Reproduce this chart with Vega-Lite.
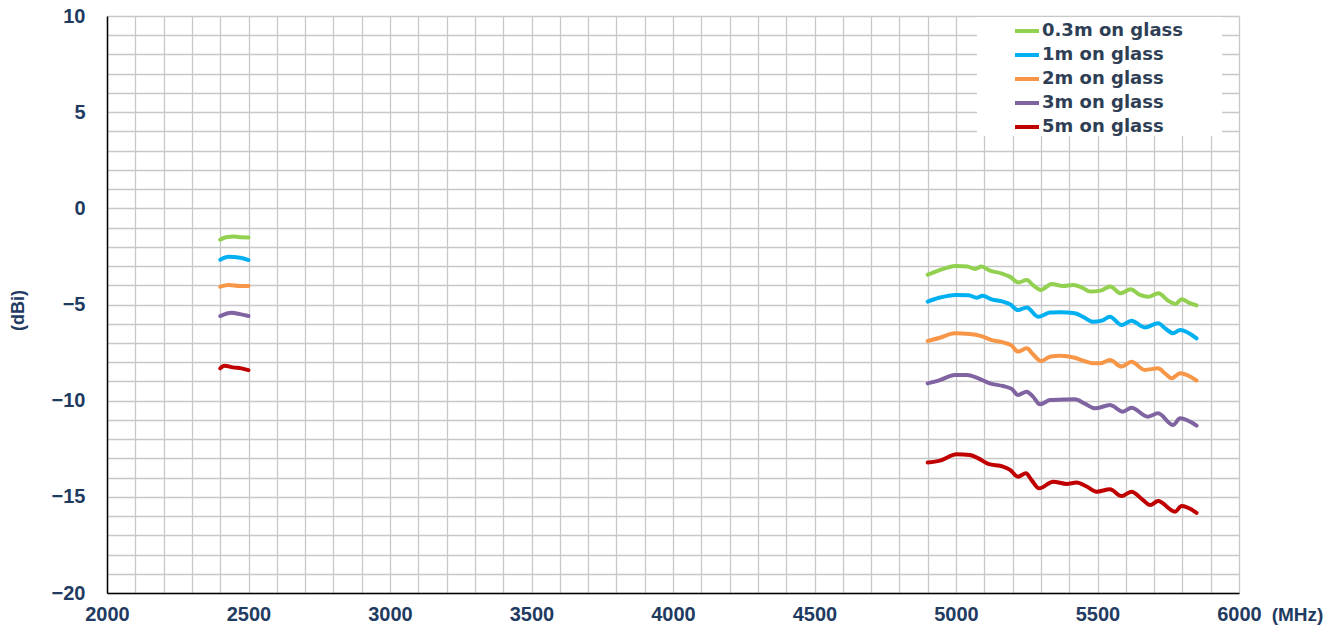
{
  "$schema": "https://vega.github.io/schema/vega-lite/v6.json",
  "width": 1132,
  "height": 577,
  "autosize": {"type": "none"},
  "padding": {"left": 107, "top": 16, "right": 104, "bottom": 37},
  "background": "white",
  "config": {"view": {"stroke": null}, "font": "Liberation Sans"},
  "data": {"values": [
    {"s":"0.3m on glass","b":"2.4","f":2400,"g":-1.63},
    {"s":"0.3m on glass","b":"2.4","f":2420,"g":-1.5},
    {"s":"0.3m on glass","b":"2.4","f":2450,"g":-1.47},
    {"s":"0.3m on glass","b":"2.4","f":2475,"g":-1.5},
    {"s":"0.3m on glass","b":"2.4","f":2500,"g":-1.51},
    {"s":"1m on glass","b":"2.4","f":2400,"g":-2.67},
    {"s":"1m on glass","b":"2.4","f":2430,"g":-2.52},
    {"s":"1m on glass","b":"2.4","f":2470,"g":-2.57},
    {"s":"1m on glass","b":"2.4","f":2500,"g":-2.69},
    {"s":"2m on glass","b":"2.4","f":2400,"g":-4.07},
    {"s":"2m on glass","b":"2.4","f":2430,"g":-3.99},
    {"s":"2m on glass","b":"2.4","f":2470,"g":-4.04},
    {"s":"2m on glass","b":"2.4","f":2500,"g":-4.04},
    {"s":"3m on glass","b":"2.4","f":2400,"g":-5.6},
    {"s":"3m on glass","b":"2.4","f":2440,"g":-5.43},
    {"s":"3m on glass","b":"2.4","f":2470,"g":-5.5},
    {"s":"3m on glass","b":"2.4","f":2500,"g":-5.6},
    {"s":"5m on glass","b":"2.4","f":2400,"g":-8.32},
    {"s":"5m on glass","b":"2.4","f":2415,"g":-8.18},
    {"s":"5m on glass","b":"2.4","f":2445,"g":-8.27},
    {"s":"5m on glass","b":"2.4","f":2475,"g":-8.32},
    {"s":"5m on glass","b":"2.4","f":2500,"g":-8.41},

    {"s":"0.3m on glass","b":"5","f":4900,"g":-3.45},
    {"s":"0.3m on glass","b":"5","f":4940,"g":-3.22},
    {"s":"0.3m on glass","b":"5","f":4970,"g":-3.08},
    {"s":"0.3m on glass","b":"5","f":5000,"g":-3.0},
    {"s":"0.3m on glass","b":"5","f":5040,"g":-3.03},
    {"s":"0.3m on glass","b":"5","f":5068,"g":-3.15},
    {"s":"0.3m on glass","b":"5","f":5090,"g":-3.03},
    {"s":"0.3m on glass","b":"5","f":5120,"g":-3.24},
    {"s":"0.3m on glass","b":"5","f":5160,"g":-3.38},
    {"s":"0.3m on glass","b":"5","f":5190,"g":-3.55},
    {"s":"0.3m on glass","b":"5","f":5220,"g":-3.85},
    {"s":"0.3m on glass","b":"5","f":5250,"g":-3.73},
    {"s":"0.3m on glass","b":"5","f":5272,"g":-3.99},
    {"s":"0.3m on glass","b":"5","f":5300,"g":-4.24},
    {"s":"0.3m on glass","b":"5","f":5338,"g":-3.93},
    {"s":"0.3m on glass","b":"5","f":5378,"g":-4.04},
    {"s":"0.3m on glass","b":"5","f":5415,"g":-3.99},
    {"s":"0.3m on glass","b":"5","f":5445,"g":-4.12},
    {"s":"0.3m on glass","b":"5","f":5475,"g":-4.33},
    {"s":"0.3m on glass","b":"5","f":5510,"g":-4.28},
    {"s":"0.3m on glass","b":"5","f":5545,"g":-4.07},
    {"s":"0.3m on glass","b":"5","f":5582,"g":-4.42},
    {"s":"0.3m on glass","b":"5","f":5617,"g":-4.21},
    {"s":"0.3m on glass","b":"5","f":5650,"g":-4.5},
    {"s":"0.3m on glass","b":"5","f":5680,"g":-4.6},
    {"s":"0.3m on glass","b":"5","f":5715,"g":-4.42},
    {"s":"0.3m on glass","b":"5","f":5750,"g":-4.8},
    {"s":"0.3m on glass","b":"5","f":5775,"g":-4.97},
    {"s":"0.3m on glass","b":"5","f":5798,"g":-4.73},
    {"s":"0.3m on glass","b":"5","f":5822,"g":-4.9},
    {"s":"0.3m on glass","b":"5","f":5850,"g":-5.05},

    {"s":"1m on glass","b":"5","f":4900,"g":-4.85},
    {"s":"1m on glass","b":"5","f":4940,"g":-4.65},
    {"s":"1m on glass","b":"5","f":5000,"g":-4.5},
    {"s":"1m on glass","b":"5","f":5045,"g":-4.52},
    {"s":"1m on glass","b":"5","f":5073,"g":-4.65},
    {"s":"1m on glass","b":"5","f":5094,"g":-4.54},
    {"s":"1m on glass","b":"5","f":5126,"g":-4.73},
    {"s":"1m on glass","b":"5","f":5166,"g":-4.85},
    {"s":"1m on glass","b":"5","f":5191,"g":-4.99},
    {"s":"1m on glass","b":"5","f":5219,"g":-5.29},
    {"s":"1m on glass","b":"5","f":5250,"g":-5.15},
    {"s":"1m on glass","b":"5","f":5290,"g":-5.64},
    {"s":"1m on glass","b":"5","f":5332,"g":-5.42},
    {"s":"1m on glass","b":"5","f":5370,"g":-5.4},
    {"s":"1m on glass","b":"5","f":5420,"g":-5.46},
    {"s":"1m on glass","b":"5","f":5450,"g":-5.65},
    {"s":"1m on glass","b":"5","f":5484,"g":-5.9},
    {"s":"1m on glass","b":"5","f":5515,"g":-5.84},
    {"s":"1m on glass","b":"5","f":5544,"g":-5.64},
    {"s":"1m on glass","b":"5","f":5585,"g":-6.07},
    {"s":"1m on glass","b":"5","f":5620,"g":-5.84},
    {"s":"1m on glass","b":"5","f":5667,"g":-6.19},
    {"s":"1m on glass","b":"5","f":5714,"g":-5.98},
    {"s":"1m on glass","b":"5","f":5740,"g":-6.25},
    {"s":"1m on glass","b":"5","f":5767,"g":-6.5},
    {"s":"1m on glass","b":"5","f":5792,"g":-6.33},
    {"s":"1m on glass","b":"5","f":5850,"g":-6.76},

    {"s":"2m on glass","b":"5","f":4900,"g":-6.9},
    {"s":"2m on glass","b":"5","f":4943,"g":-6.73},
    {"s":"2m on glass","b":"5","f":4996,"g":-6.5},
    {"s":"2m on glass","b":"5","f":5049,"g":-6.53},
    {"s":"2m on glass","b":"5","f":5090,"g":-6.64},
    {"s":"2m on glass","b":"5","f":5126,"g":-6.85},
    {"s":"2m on glass","b":"5","f":5166,"g":-6.97},
    {"s":"2m on glass","b":"5","f":5197,"g":-7.14},
    {"s":"2m on glass","b":"5","f":5219,"g":-7.45},
    {"s":"2m on glass","b":"5","f":5250,"g":-7.28},
    {"s":"2m on glass","b":"5","f":5272,"g":-7.59},
    {"s":"2m on glass","b":"5","f":5300,"g":-7.94},
    {"s":"2m on glass","b":"5","f":5332,"g":-7.72},
    {"s":"2m on glass","b":"5","f":5367,"g":-7.66},
    {"s":"2m on glass","b":"5","f":5420,"g":-7.77},
    {"s":"2m on glass","b":"5","f":5455,"g":-7.95},
    {"s":"2m on glass","b":"5","f":5484,"g":-8.06},
    {"s":"2m on glass","b":"5","f":5509,"g":-8.06},
    {"s":"2m on glass","b":"5","f":5544,"g":-7.89},
    {"s":"2m on glass","b":"5","f":5585,"g":-8.23},
    {"s":"2m on glass","b":"5","f":5620,"g":-7.98},
    {"s":"2m on glass","b":"5","f":5667,"g":-8.4},
    {"s":"2m on glass","b":"5","f":5714,"g":-8.32},
    {"s":"2m on glass","b":"5","f":5740,"g":-8.6},
    {"s":"2m on glass","b":"5","f":5762,"g":-8.84},
    {"s":"2m on glass","b":"5","f":5792,"g":-8.58},
    {"s":"2m on glass","b":"5","f":5850,"g":-8.95},

    {"s":"3m on glass","b":"5","f":4900,"g":-9.1},
    {"s":"3m on glass","b":"5","f":4943,"g":-8.93},
    {"s":"3m on glass","b":"5","f":4996,"g":-8.67},
    {"s":"3m on glass","b":"5","f":5038,"g":-8.67},
    {"s":"3m on glass","b":"5","f":5079,"g":-8.84},
    {"s":"3m on glass","b":"5","f":5120,"g":-9.1},
    {"s":"3m on glass","b":"5","f":5166,"g":-9.24},
    {"s":"3m on glass","b":"5","f":5197,"g":-9.39},
    {"s":"3m on glass","b":"5","f":5219,"g":-9.7},
    {"s":"3m on glass","b":"5","f":5250,"g":-9.53},
    {"s":"3m on glass","b":"5","f":5272,"g":-9.79},
    {"s":"3m on glass","b":"5","f":5297,"g":-10.19},
    {"s":"3m on glass","b":"5","f":5332,"g":-9.97},
    {"s":"3m on glass","b":"5","f":5367,"g":-9.95},
    {"s":"3m on glass","b":"5","f":5420,"g":-9.93},
    {"s":"3m on glass","b":"5","f":5455,"g":-10.15},
    {"s":"3m on glass","b":"5","f":5491,"g":-10.4},
    {"s":"3m on glass","b":"5","f":5544,"g":-10.23},
    {"s":"3m on glass","b":"5","f":5590,"g":-10.57},
    {"s":"3m on glass","b":"5","f":5620,"g":-10.37},
    {"s":"3m on glass","b":"5","f":5678,"g":-10.83},
    {"s":"3m on glass","b":"5","f":5714,"g":-10.66},
    {"s":"3m on glass","b":"5","f":5767,"g":-11.27},
    {"s":"3m on glass","b":"5","f":5792,"g":-10.92},
    {"s":"3m on glass","b":"5","f":5850,"g":-11.3},

    {"s":"5m on glass","b":"5","f":4900,"g":-13.22},
    {"s":"5m on glass","b":"5","f":4943,"g":-13.12},
    {"s":"5m on glass","b":"5","f":5002,"g":-12.79},
    {"s":"5m on glass","b":"5","f":5049,"g":-12.83},
    {"s":"5m on glass","b":"5","f":5079,"g":-13.0},
    {"s":"5m on glass","b":"5","f":5114,"g":-13.29},
    {"s":"5m on glass","b":"5","f":5166,"g":-13.43},
    {"s":"5m on glass","b":"5","f":5191,"g":-13.6},
    {"s":"5m on glass","b":"5","f":5219,"g":-13.95},
    {"s":"5m on glass","b":"5","f":5247,"g":-13.78},
    {"s":"5m on glass","b":"5","f":5267,"g":-14.13},
    {"s":"5m on glass","b":"5","f":5294,"g":-14.56},
    {"s":"5m on glass","b":"5","f":5343,"g":-14.21},
    {"s":"5m on glass","b":"5","f":5391,"g":-14.33},
    {"s":"5m on glass","b":"5","f":5426,"g":-14.26},
    {"s":"5m on glass","b":"5","f":5460,"g":-14.45},
    {"s":"5m on glass","b":"5","f":5497,"g":-14.73},
    {"s":"5m on glass","b":"5","f":5544,"g":-14.61},
    {"s":"5m on glass","b":"5","f":5585,"g":-14.96},
    {"s":"5m on glass","b":"5","f":5620,"g":-14.73},
    {"s":"5m on glass","b":"5","f":5661,"g":-15.17},
    {"s":"5m on glass","b":"5","f":5686,"g":-15.43},
    {"s":"5m on glass","b":"5","f":5714,"g":-15.22},
    {"s":"5m on glass","b":"5","f":5774,"g":-15.77},
    {"s":"5m on glass","b":"5","f":5797,"g":-15.48},
    {"s":"5m on glass","b":"5","f":5850,"g":-15.83}
  ]},
  "mark": {"type": "line", "strokeWidth": 4, "interpolate": "monotone", "strokeCap": "round", "strokeJoin": "round"},
  "encoding": {
    "x": {
      "field": "f", "type": "quantitative",
      "scale": {"domain": [2000, 6000], "nice": false, "zero": false},
      "axis": {
        "values": [2000,2100,2200,2300,2400,2500,2600,2700,2800,2900,3000,3100,3200,3300,3400,3500,3600,3700,3800,3900,4000,4100,4200,4300,4400,4500,4600,4700,4800,4900,5000,5100,5200,5300,5400,5500,5600,5700,5800,5900,6000],
        "format": "d",
        "labelExpr": "datum.value % 500 === 0 ? datum.label : ''",
        "labelOverlap": false, "labelBound": false, "labelFlush": false,
        "grid": true, "gridColor": "#C8C8C8", "gridWidth": 1.3,
        "domainColor": "#000000", "domainWidth": 1.5,
        "ticks": false, "tickSize": 0,
        "labelFont": "Liberation Sans", "labelFontSize": 20, "labelFontWeight": "bold", "labelColor": "#1F3B62",
        "labelPadding": 11,
        "title": "(MHz)", "titleFont": "Liberation Sans", "titleFontSize": 19, "titleFontWeight": "bold", "titleColor": "#1F3B62",
        "titleX": 1190, "titleY": 21, "titleAlign": "center", "titleBaseline": "middle", "titleAngle": 0
      }
    },
    "y": {
      "field": "g", "type": "quantitative",
      "scale": {"domain": [-20, 10], "nice": false, "zero": false},
      "axis": {
        "values": [-20,-19,-18,-17,-16,-15,-14,-13,-12,-11,-10,-9,-8,-7,-6,-5,-4,-3,-2,-1,0,1,2,3,4,5,6,7,8,9,10],
        "labelExpr": "datum.value % 5 === 0 ? datum.label : ''",
        "labelOverlap": false, "labelBound": false, "labelFlush": false,
        "grid": true, "gridColor": "#C8C8C8", "gridWidth": 1.3,
        "domainColor": "#000000", "domainWidth": 1.5,
        "ticks": false, "tickSize": 0,
        "labelFont": "Liberation Sans", "labelFontSize": 20, "labelFontWeight": "bold", "labelColor": "#1F3B62",
        "labelPadding": 22,
        "title": "(dBi)", "titleFont": "Liberation Sans", "titleFontSize": 18, "titleFontWeight": "bold", "titleColor": "#1F3B62",
        "titleX": -89, "titleY": 294, "titleAlign": "center", "titleBaseline": "middle", "titleAngle": -90
      }
    },
    "color": {
      "field": "s", "type": "nominal",
      "scale": {
        "domain": ["0.3m on glass", "1m on glass", "2m on glass", "3m on glass", "5m on glass"],
        "range": ["#92D050", "#00B0F0", "#F79646", "#8064A2", "#C00000"]
      },
      "legend": {
        "title": "_", "titleOrient": "right", "titleColor": "white", "titleFontSize": 8, "titlePadding": 34,
        "orient": "none", "legendX": 870, "legendY": 1,
        "fillColor": "white", "padding": 0, "symbolOffset": 36,
        "symbolType": "stroke", "symbolSize": 576, "symbolStrokeWidth": 4,
        "labelFont": "DejaVu Sans", "labelFontSize": 18, "labelFontWeight": "bold", "labelColor": "#2E3E55",
        "labelOffset": 1, "rowPadding": 1, "labelLimit": 400
      }
    },
    "detail": {"field": "b", "type": "nominal"}
  }
}
